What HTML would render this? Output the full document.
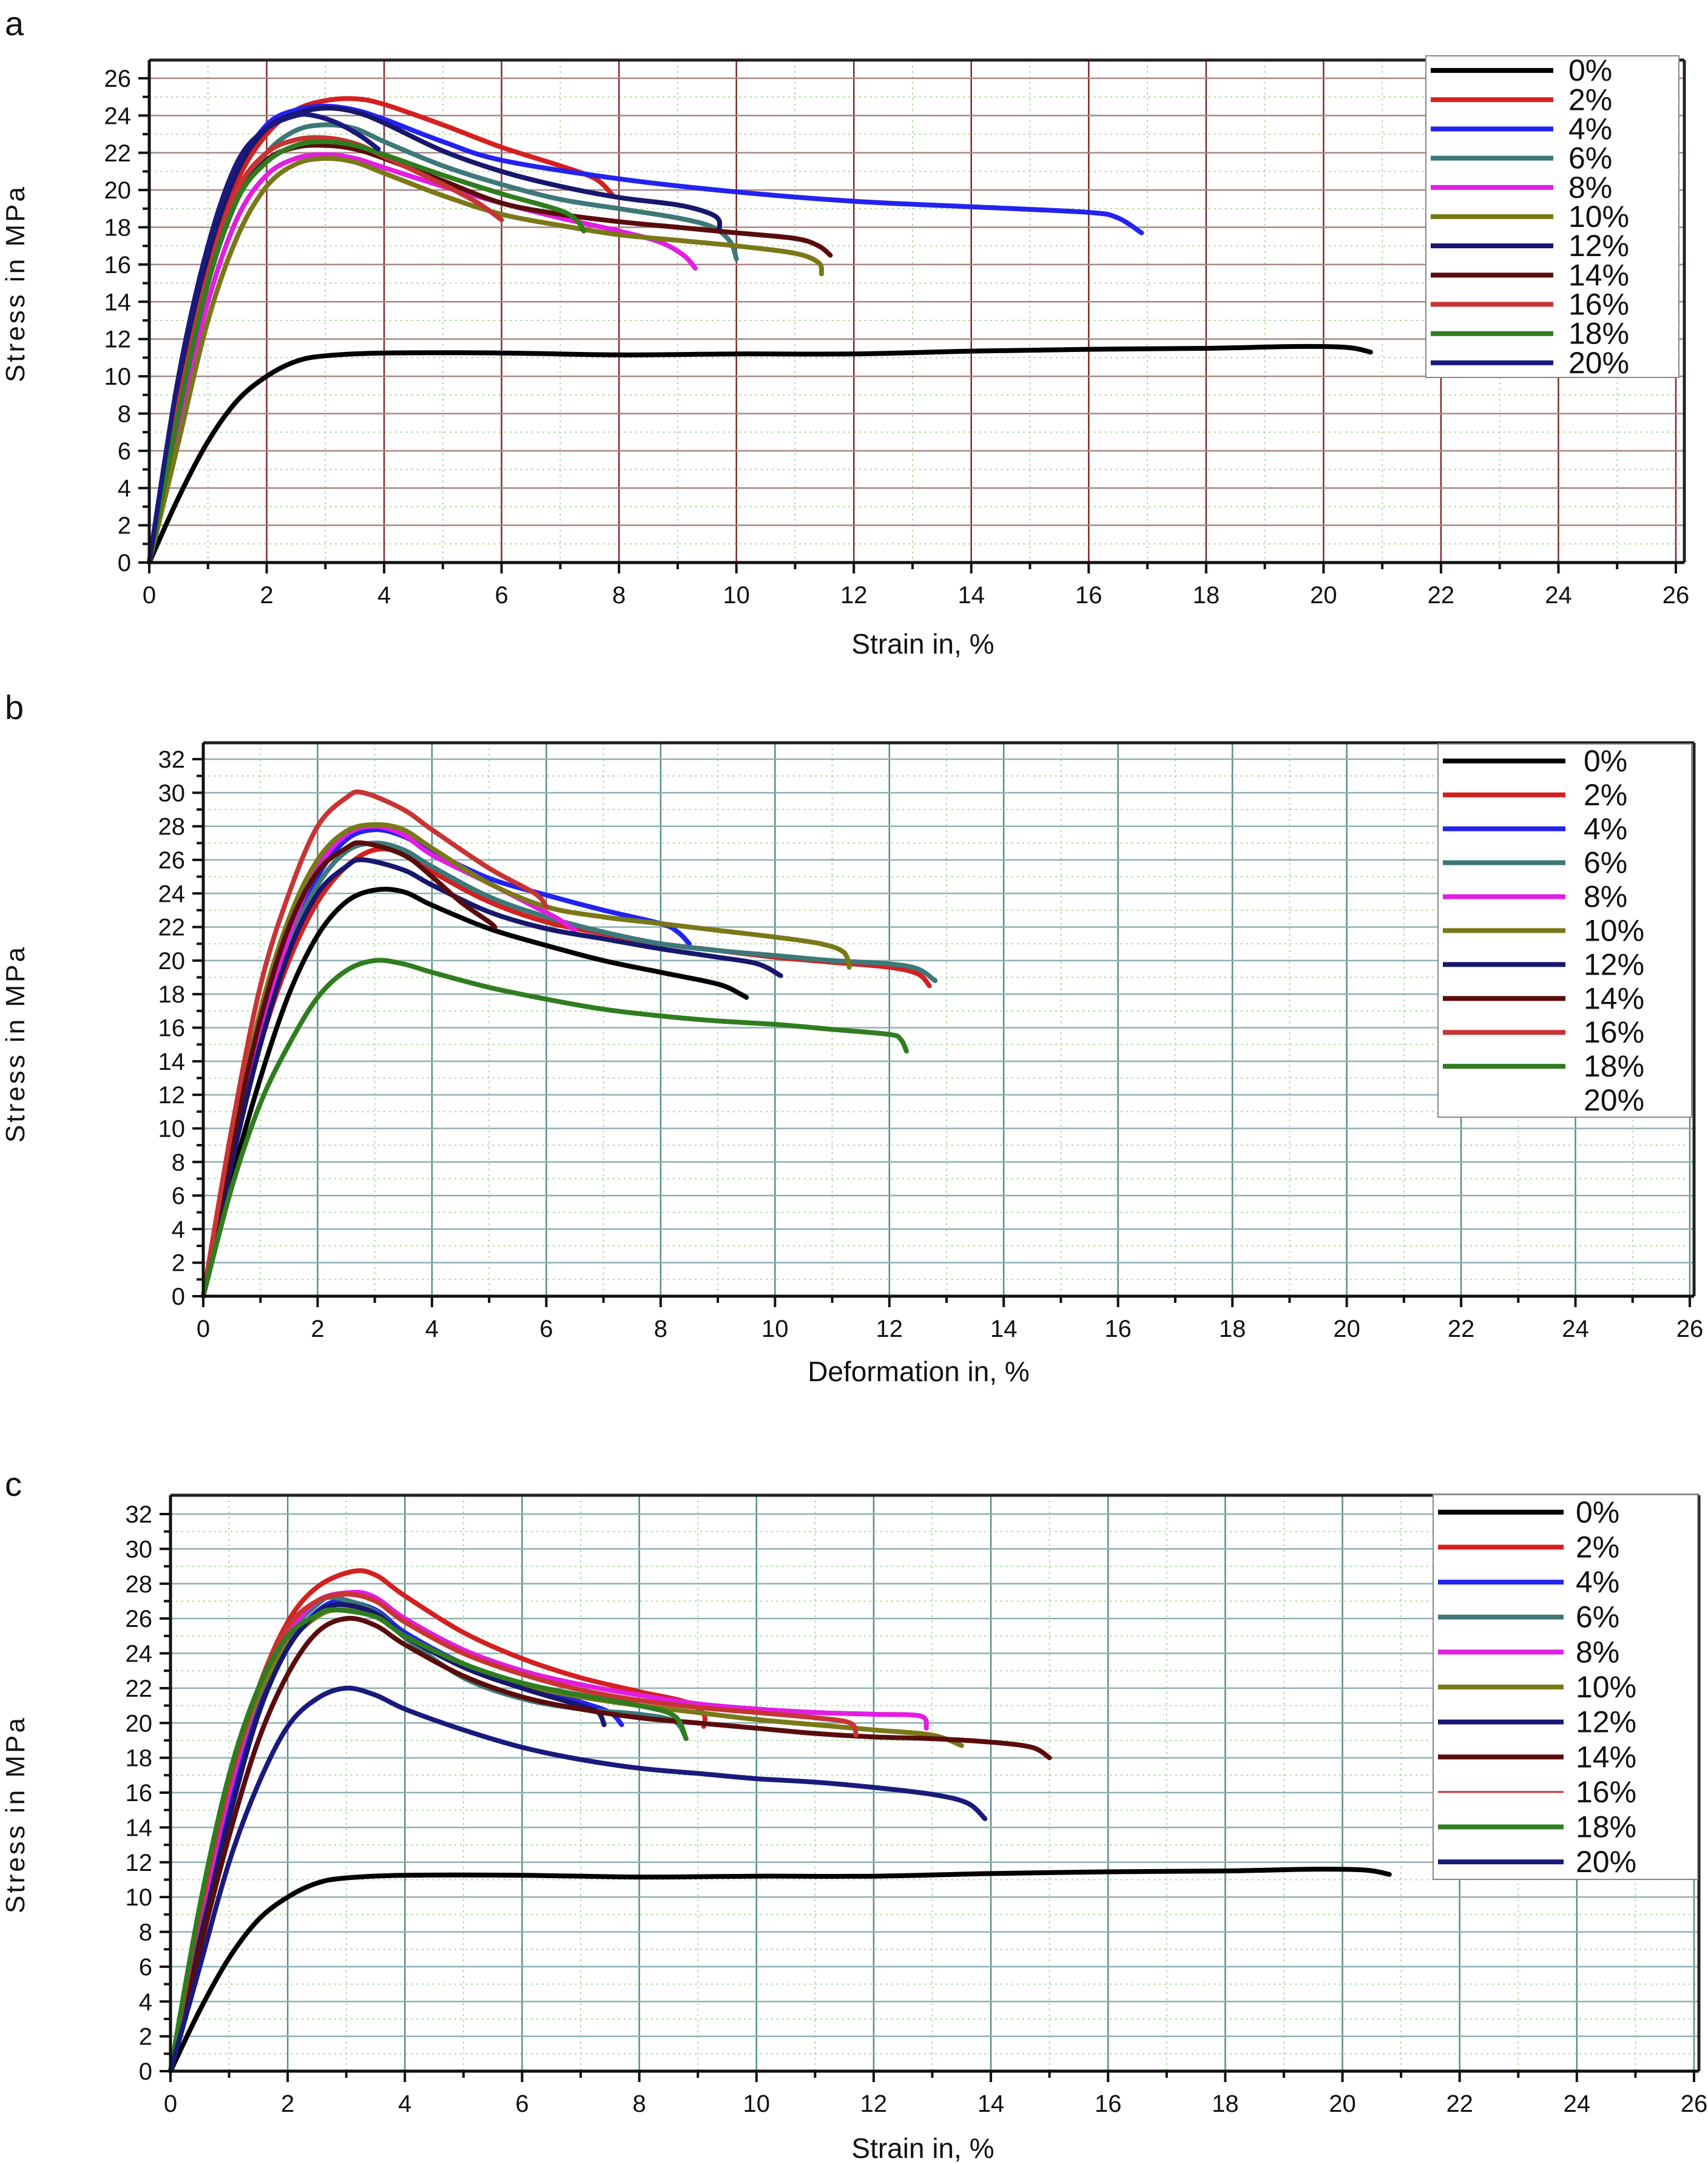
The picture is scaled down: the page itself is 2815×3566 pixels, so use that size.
<!DOCTYPE html>
<html><head><meta charset="utf-8">
<style>
html,body{margin:0;padding:0;background:#fff;}
svg{display:block;font-family:"Liberation Sans Narrow","Liberation Sans",sans-serif;}
</style></head>
<body>
<svg id="chart" width="2815" height="3566" viewBox="0 0 2815 3566" xmlns="http://www.w3.org/2000/svg">
<rect width="2815" height="3566" fill="#fff"/>
</svg>
<script>
// ---------- data arrays (strain %, stress MPa) ----------
const legendLabels = ["0%","2%","4%","6%","8%","10%","12%","14%","16%","18%","20%"];
const colorsA = ["#000000","#d42020","#2323f0","#3e7878","#e21ee2","#7a7818","#17176e","#5a0c0c","#c83434","#2f7d1f","#1a1a7c"];
const colorsB = ["#000000","#d42020","#2323f0","#3e7878","#e21ee2","#7a7818","#17176e","#5a0c0c","#c83434","#2f7d1f",null];
const colorsC = ["#000000","#d42020","#2323f0","#3e7878","#e21ee2","#7a7818","#17176e","#5a0c0c","#c83434","#2f7d1f","#1a1a7c"];
const xTicks = [0,2,4,6,8,10,12,14,16,18,20,22,24,26];
const yTicksA = [0,2,4,6,8,10,12,14,16,18,20,22,24,26];
const yTicksBC = [0,2,4,6,8,10,12,14,16,18,20,22,24,26,28,30,32];

// Panel a
const a0 = [[0,0],[0.5,3.5],[1,6.5],[1.5,8.7],[2,10],[2.5,10.8],[3,11.1],[4,11.25],[6,11.25],[8,11.15],[10,11.2],[12,11.2],[14,11.35],[16,11.45],[18,11.5],[19.5,11.6],[20.4,11.55],[20.8,11.3]];
const a2 = [[0,0],[0.5,9],[1,16],[1.5,20.5],[2,23],[2.5,24.3],[3,24.8],[3.5,24.9],[4,24.6],[5,23.5],[6,22.3],[7,21.3],[7.6,20.6],[7.9,19.7]];
const a4 = [[0,0],[0.5,9.5],[1,16.5],[1.5,21],[2,23.5],[2.5,24.3],[3,24.5],[3.5,24.3],[4,23.8],[5,22.6],[6,21.6],[8,20.6],[10,19.9],[12,19.4],[14,19.1],[16,18.8],[16.5,18.5],[16.9,17.7]];
const a6 = [[0,0],[0.5,8],[1,15],[1.5,19.5],[2,22],[2.5,23.2],[3,23.5],[3.5,23.3],[4,22.6],[5,21.3],[6,20.3],[7,19.5],[8,19],[9,18.5],[9.6,18],[9.9,17.2],[10,16.3]];
const a8 = [[0,0],[0.5,7.5],[1,14],[1.5,18.5],[2,20.8],[2.5,21.7],[3,21.9],[3.5,21.7],[4,21.2],[5,20.2],[6,19.3],[7,18.5],[8,17.8],[8.7,17.2],[9.1,16.5],[9.3,15.8]];
const a10 = [[0,0],[0.5,6.5],[1,13],[1.5,17.5],[2,20.2],[2.5,21.4],[3,21.7],[3.5,21.5],[4,20.9],[5,19.7],[6,18.7],[7,18.1],[8,17.6],[9,17.3],[10,17],[11,16.6],[11.4,16.1],[11.45,15.5]];
const a12 = [[0,0],[0.5,9.5],[1,16.5],[1.5,21],[2,23.3],[2.5,24.1],[3,24.4],[3.5,24.2],[4,23.6],[5,22.1],[6,21],[7,20.2],[8,19.6],[9,19.2],[9.5,18.8],[9.7,18.4],[9.7,17.8]];
const a14 = [[0,0],[0.5,8],[1,15],[1.5,19.5],[2,21.6],[2.5,22.3],[3,22.4],[3.5,22.2],[4,21.7],[5,20.5],[6,19.3],[7,18.7],[8,18.3],[9,18],[10,17.7],[11,17.4],[11.4,17],[11.6,16.5]];
const a16 = [[0,0],[0.5,8.5],[1,15.5],[1.5,20],[2,22],[2.5,22.7],[3,22.8],[3.5,22.5],[4,21.8],[5,20.3],[5.6,19.3],[6,18.4]];
const a18 = [[0,0],[0.5,8],[1,15],[1.5,19.5],[2,21.5],[2.5,22.4],[3,22.6],[3.5,22.4],[4,21.9],[5,20.8],[6,19.8],[7,18.9],[7.3,18.3],[7.4,17.8]];
const a20 = [[0,0],[0.5,10],[1,17],[1.5,21.5],[2,23.3],[2.5,24],[2.8,24],[3.2,23.6],[3.6,22.9],[3.9,22.2]];

// Panel b
const b0 = [[0,0],[0.5,7],[1,13],[1.5,18],[2,21.5],[2.5,23.5],[3,24.2],[3.5,24.1],[4,23.3],[5,21.9],[6,20.9],[7,20],[8,19.3],[9,18.6],[9.4,18],[9.5,17.8]];
const b2 = [[0,0],[0.5,8],[1,15],[1.5,20],[2,23.5],[2.5,25.6],[3,26.6],[3.5,26.4],[4,25.3],[5,23.5],[6,22.3],[7,21.6],[8,21],[9,20.6],[10,20.2],[11,19.9],[12,19.6],[12.5,19.2],[12.7,18.5]];
const b4 = [[0,0],[0.5,8],[1,15.5],[1.5,21],[2,25],[2.5,27.2],[3,27.8],[3.5,27.4],[4,26.5],[5,24.9],[6,23.9],[7,23],[8,22.2],[8.3,21.7],[8.5,21]];
const b6 = [[0,0],[0.5,8],[1,15.5],[1.5,21],[2,24.5],[2.5,26.5],[3,27],[3.5,26.6],[4,25.6],[5,23.8],[6,22.6],[7,21.7],[8,21],[9,20.6],[10,20.3],[11,20],[12,19.8],[12.5,19.5],[12.8,18.8]];
const b8 = [[0,0],[0.5,8],[1,15.5],[1.5,21.5],[2,25.5],[2.5,27.5],[3,28],[3.5,27.5],[4,26.3],[5,24.6],[5.8,23.2],[6.2,22.5],[6.5,21.8]];
const b10 = [[0,0],[0.5,9],[1,17],[1.5,22.5],[2,26],[2.5,27.7],[3,28.1],[3.5,27.8],[4,26.7],[5,24.6],[6,23.2],[7,22.6],[8,22.2],[9,21.8],[10,21.4],[10.8,21],[11.2,20.5],[11.3,19.6]];
const b12 = [[0,0],[0.5,8],[1,15],[1.5,20.5],[2,24],[2.5,25.6],[2.8,26],[3.5,25.4],[4,24.5],[5,22.9],[6,21.9],[7,21.3],[8,20.7],[9,20.2],[9.7,19.8],[10.1,19.1]];
const b14 = [[0,0],[0.5,9],[1,16.5],[1.5,22],[2,25.3],[2.5,26.7],[2.8,27],[3.5,26.3],[4,25],[4.5,23.5],[5,22.3],[5.1,22]];
const b16 = [[0,0],[0.5,10],[1,18.5],[1.5,24],[2,28],[2.5,29.7],[2.8,30],[3.5,29],[4,27.8],[5,25.5],[5.8,24],[6,23.2]];
const b18 = [[0,0],[0.5,6.5],[1,11.5],[1.5,15],[2,17.8],[2.5,19.4],[3,20],[3.5,19.8],[4,19.3],[5,18.4],[6,17.7],[7,17.1],[8,16.7],[9,16.4],[10,16.2],[11,15.9],[12,15.6],[12.2,15.3],[12.3,14.6]];

// Panel c
const c0 = [[0,0],[0.5,3.5],[1,6.5],[1.5,8.7],[2,10],[2.5,10.8],[3,11.1],[4,11.25],[6,11.25],[8,11.15],[10,11.2],[12,11.2],[14,11.35],[16,11.45],[18,11.5],[19.5,11.6],[20.4,11.55],[20.8,11.3]];
const c2 = [[0,0],[0.5,9],[1,16.5],[1.5,22],[2,25.8],[2.5,27.8],[3.1,28.7],[3.5,28.5],[4,27.3],[5,25.2],[6,23.7],[7,22.6],[8,21.8],[8.8,21.2],[9.1,20.5],[9.1,19.8]];
const c4 = [[0,0],[0.5,8],[1,15.5],[1.5,21],[2,24.5],[2.5,26.4],[2.9,27],[3.5,26.5],[4,25.2],[5,23.4],[6,22.2],[7,21.2],[7.5,20.6],[7.7,19.9]];
const c6 = [[0,0],[0.5,8.5],[1,16],[1.5,21.5],[2,25],[2.5,26.8],[2.8,27.2],[3.5,26.4],[4,24.9],[5,22.6],[6,21.4],[7,20.8],[8,20.5],[8.6,20.1],[8.8,19.1]];
const c8 = [[0,0],[0.5,8.5],[1,16],[1.5,21.5],[2,25],[2.5,27],[3.1,27.5],[3.5,27.2],[4,26],[5,24.2],[6,23],[7,22.2],[8,21.6],[9,21.1],[10,20.8],[11,20.6],[12,20.5],[12.8,20.4],[12.9,19.7]];
const c10 = [[0,0],[0.5,9],[1,16.5],[1.5,21.5],[2,24.5],[2.5,26.1],[2.9,26.5],[3.5,26.1],[4,25],[5,23.3],[6,22.2],[7,21.5],[8,21],[9,20.6],[10,20.2],[11,19.9],[12,19.6],[13,19.3],[13.5,18.7]];
const c12 = [[0,0],[0.5,7.5],[1,14.5],[1.5,20.5],[2,24.3],[2.5,26.3],[2.9,26.8],[3.5,26.3],[4,25],[5,23.2],[6,22],[7,21],[7.3,20.6],[7.4,19.9]];
const c14 = [[0,0],[0.5,7],[1,13.5],[1.5,19],[2,22.8],[2.5,25.2],[3,26],[3.5,25.6],[4,24.5],[5,22.7],[6,21.5],[7,20.8],[8,20.3],[9,20],[10,19.7],[11,19.4],[12,19.2],[13,19.1],[14,18.9],[14.7,18.6],[15,18]];
const c16 = [[0,0],[0.5,9],[1,16.5],[1.5,22],[2,25.5],[2.5,27],[3,27.4],[3.5,27],[4,25.8],[5,24],[6,22.8],[7,21.9],[8,21.3],[9,20.9],[10,20.6],[11,20.3],[11.6,20],[11.7,19.3]];
const c18 = [[0,0],[0.5,9.5],[1,17],[1.5,22],[2,25],[2.5,26.2],[2.8,26.5],[3.5,26.1],[4,25],[5,23.4],[6,22.3],[7,21.6],[8,21],[8.6,20.4],[8.8,19.1]];
const c20 = [[0,0],[0.5,6],[1,12],[1.5,16.5],[2,19.8],[2.5,21.4],[3,22],[3.5,21.6],[4,20.8],[5,19.6],[6,18.6],[7,17.9],[8,17.4],[9,17.1],[10,16.8],[11,16.6],[12,16.3],[13,15.9],[13.6,15.4],[13.9,14.5]];

const seriesA = [a0,a2,a4,a6,a8,a10,a12,a14,a16,a18,a20];
const seriesB = [b0,b2,b4,b6,b8,b10,b12,b14,b16,b18];
const seriesC = [c0,c2,c4,c6,c8,c10,c12,c14,c16,c18,c20];

// ---------- rendering ----------
const NS = "http://www.w3.org/2000/svg";
const svg = document.getElementById("chart");
function el(tag, attrs, parent){
  const e = document.createElementNS(NS, tag);
  for (const k in attrs) e.setAttribute(k, attrs[k]);
  (parent||svg).appendChild(e);
  return e;
}
function smoothPath(pts){
  let d = "M"+pts[0][0].toFixed(1)+","+pts[0][1].toFixed(1);
  for (let i=0;i<pts.length-1;i++){
    const p0=pts[Math.max(0,i-1)], p1=pts[i], p2=pts[i+1], p3=pts[Math.min(pts.length-1,i+2)];
    const c1x=p1[0]+(p2[0]-p0[0])/6, c1y=p1[1]+(p2[1]-p0[1])/6;
    const c2x=p2[0]-(p3[0]-p1[0])/6, c2y=p2[1]-(p3[1]-p1[1])/6;
    d += " C"+c1x.toFixed(1)+","+c1y.toFixed(1)+" "+c2x.toFixed(1)+","+c2y.toFixed(1)+" "+p2[0].toFixed(1)+","+p2[1].toFixed(1);
  }
  return d;
}

function panel(cfg){
  const g = el("g", {});
  
  
  const xs = v => cfg.x0 + (cfg.x1-cfg.x0)*v/26;
  const ys = v => cfg.y0 - (cfg.y0-cfg.y1)*v/cfg.yMax;
  const right = cfg.frameRight, top = cfg.frameTop;
  for (let v=1; v<26; v+=2){
    const l = el("line",{x1:xs(v),x2:xs(v),y1:top,y2:cfg.y0,stroke:"#a8dc9a","stroke-width":2,"stroke-dasharray":"3,6"},g);
    
    
  }
  for (let v=1; v<cfg.yMax+1; v+=2){
    const l = el("line",{x1:cfg.x0,x2:right,y1:ys(v),y2:ys(v),stroke:"#a8dc9a","stroke-width":2,"stroke-dasharray":"3,6"},g);
    
    
  }
  xTicks.forEach(v=>{
    if (v===0) return;
    const l = el("line",{x1:xs(v),x2:xs(v),y1:top,y2:cfg.y0,stroke:cfg.gridV,"stroke-width":2.5},g);
    
    
  });
  cfg.yTicks.forEach(v=>{
    if (v===0) return;
    const l = el("line",{x1:cfg.x0,x2:right,y1:ys(v),y2:ys(v),stroke:cfg.gridH,"stroke-width":2.5},g);
    
    
  });
  const fr = el("path",{d:`M${cfg.x0},${top} L${right},${top} M${right},${top} L${right},${cfg.y0}`,stroke:"#222","stroke-width":5,fill:"none"},g);
  
  
  cfg.series.forEach((s,i)=>{
    const p = el("path",{d:smoothPath(s.map(q=>[xs(q[0]),ys(q[1])])),stroke:cfg.colors[i],"stroke-width":8,fill:"none","stroke-linecap":"round","stroke-linejoin":"round"},g);
    
    
  });
  const ax = el("line",{x1:cfg.x0,x2:right,y1:cfg.y0,y2:cfg.y0,stroke:"#111","stroke-width":5},g);
  
  
  const ay = el("line",{x1:cfg.x0,x2:cfg.x0,y1:top,y2:cfg.y0,stroke:"#111","stroke-width":5},g);
  
  
  for (let v=0; v<=26; v++){
    const len = v%2===0 ? 18 : 11;
    const t = el("line",{x1:xs(v),x2:xs(v),y1:cfg.y0,y2:cfg.y0+len,stroke:"#111","stroke-width":4},g);
    
    
  }
  xTicks.forEach(v=>{
    const t = el("text",{x:xs(v),y:cfg.y0+67,"font-size":40,"text-anchor":"middle",fill:"#111"},g);
    t.textContent = v;
    
    
  });
  for (let v=0; v<=cfg.yMax; v++){
    const len = v%2===0 ? 18 : 11;
    const t = el("line",{x1:cfg.x0-len,x2:cfg.x0,y1:ys(v),y2:ys(v),stroke:"#111","stroke-width":4},g);
    
    
  }
  cfg.yTicks.forEach(v=>{
    const t = el("text",{x:cfg.x0-30,y:ys(v)+14,"font-size":40,"text-anchor":"end",fill:"#111"},g);
    t.textContent = v;
    
    
  });
  const xt = el("text",{x:cfg.xTitleX,y:cfg.xTitleY,"font-size":46,"text-anchor":"middle",fill:"#111"},g);
  xt.textContent = cfg.xTitle;
  
  
  const yt = el("text",{x:0,y:0,"font-size":44,"text-anchor":"middle",fill:"#111","letter-spacing":4,transform:`translate(${cfg.yTitleX},${cfg.yTitleY}) rotate(-90)`,"font-family":"Liberation Sans, sans-serif"},g);
  yt.textContent = "Stress in MPa";
  
  
  const lab = el("text",{x:8,y:cfg.labelY,"font-size":56,fill:"#111","font-family":"Liberation Sans, sans-serif"},g);
  lab.textContent = cfg.label;
  
  
  const L = cfg.legend;
  const lg = el("g",{},g);
  
  
  el("rect",{x:L.x,y:L.y,width:L.w,height:L.h,fill:"#fff",stroke:"#888","stroke-width":2},lg);
  const step = L.h/11;
  legendLabels.forEach((lbl,i)=>{
    const yy = L.y + step*(i+0.5);
    if (cfg.colors[i]){
      const ln = el("line",{x1:L.x+8,x2:L.x+L.lineW,y1:yy,y2:yy,stroke:cfg.colors[i],"stroke-width":i===8&&cfg.label==="c"?3:8},lg);
      
      
    }
    const tx = el("text",{x:L.x+L.textX,y:yy+17,"font-size":50,fill:"#111"},lg);
    tx.textContent = lbl;
    
    
  });
}

panel({name:"panel-a",label:"a",labelY:58,x0:246,x1:2762,y0:927,y1:129,yMax:26,yTicks:yTicksA,frameTop:99,frameRight:2776,
  gridV:"#7e2a2a",gridH:"#a88686",series:seriesA,colors:colorsA,xTitle:"Strain in, %",xTitleX:1521,xTitleY:1077,yTitleX:40,yTitleY:467,
  legend:{x:2350,y:92,w:417,h:530,lineW:210,textX:235}});
panel({name:"panel-b",label:"b",labelY:1185,x0:335,x1:2785,y0:2136,y1:1251,yMax:32,yTicks:yTicksBC,frameTop:1224,frameRight:2792,
  gridV:"#5b8c8c",gridH:"#8fb0b0",series:seriesB,colors:colorsB,xTitle:"Deformation in, %",xTitleX:1514,xTitleY:2276,yTitleX:40,yTitleY:1720,
  legend:{x:2370,y:1226,w:418,h:615,lineW:210,textX:240}});
panel({name:"panel-c",label:"c",labelY:2465,x0:281,x1:2792,y0:3413,y1:2495,yMax:32,yTicks:yTicksBC,frameTop:2464,frameRight:2800,
  gridV:"#5b8c8c",gridH:"#8fb0b0",series:seriesC,colors:colorsC,xTitle:"Strain in, %",xTitleX:1521,xTitleY:3556,yTitleX:40,yTitleY:2990,
  legend:{x:2362,y:2463,w:436,h:634,lineW:215,textX:235}});
</script>
</body></html>
